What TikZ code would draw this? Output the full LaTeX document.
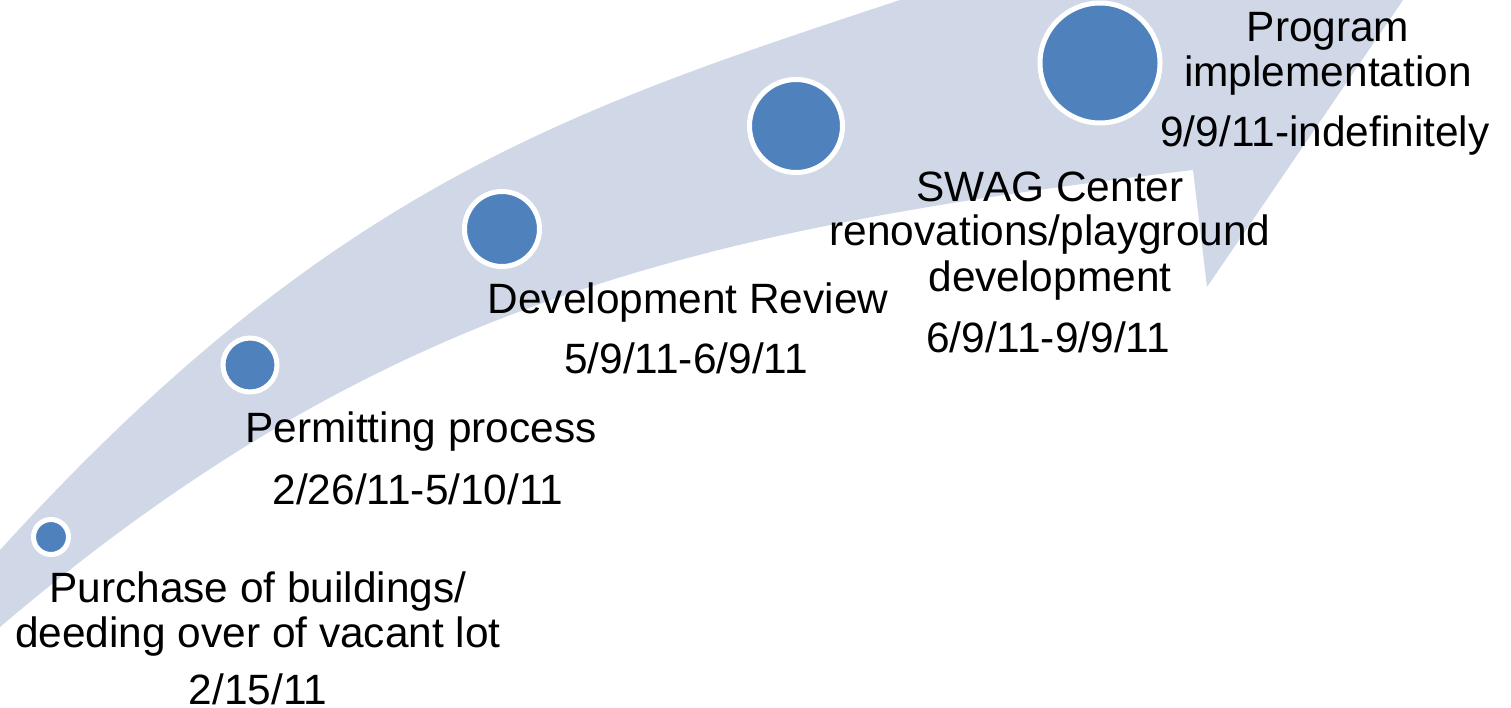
\documentclass[tikz,border=0pt]{standalone}
\usepackage{fontspec}
\setmainfont{Liberation Sans}
\definecolor{bandcol}{RGB}{208,216,232}
\definecolor{dotcol}{RGB}{79,129,189}
\begin{document}
\begin{tikzpicture}[x=1pt,y=-1pt,
  dot/.style={circle,fill=dotcol,draw=white,line width=5pt,inner sep=0pt},
  lbl/.style={anchor=base,inner sep=0pt,font=\fontsize{42.4}{45}\selectfont}]
\useasboundingbox (0,0) rectangle (1511,708);
\begin{scope}
\clip (0,0) rectangle (1511,708);
\fill[bandcol] (-40,594) -- (0,550) .. controls (330,187) and (570,109) .. (900,0)
  -- (1100,-66) -- (1444,-60) -- (1207,287) -- (1193,170)
  .. controls (693,230) and (380,304) .. (0,627) -- (-40,661) -- cycle;
\end{scope}
\node[dot,minimum size=35pt] (c1) at (51,537) {};
\node[dot,minimum size=54pt] (c2) at (250,365) {};
\node[dot,minimum size=75pt] (c3) at (502,229) {};
\node[dot,minimum size=93pt] (c4) at (796,126) {};
\node[dot,minimum size=120pt] (c5) at (1100,63) {};
% labels
\node[lbl] (t5a) at (1328,42) {Program};
\node[lbl] (t5b) at (1328,87) {implementation};
\node[lbl] (d5) at (1325,147) {9/9/11-indefinitely};
\node[lbl] (t4a) at (1050,202) {SWAG Center};
\node[lbl] (t4b) at (1050,246) {renovations/playground};
\node[lbl] (t4c) at (1050,291) {development};
\node[lbl] (d4) at (1048,352) {6/9/11-9/9/11};
\node[lbl] (t3a) at (688,313) {Development Review};
\node[lbl] (d3) at (686,373) {5/9/11-6/9/11};
\node[lbl] (t2a) at (421,442) {Permitting process};
\node[lbl] (d2) at (418,504) {2/26/11-5/10/11};
\node[lbl] (t1a) at (258,602) {Purchase of buildings/};
\node[lbl] (t1b) at (258,647) {deeding over of vacant lot};
\node[lbl] (d1) at (258,704) {2/15/11};
\end{tikzpicture}
\end{document}
